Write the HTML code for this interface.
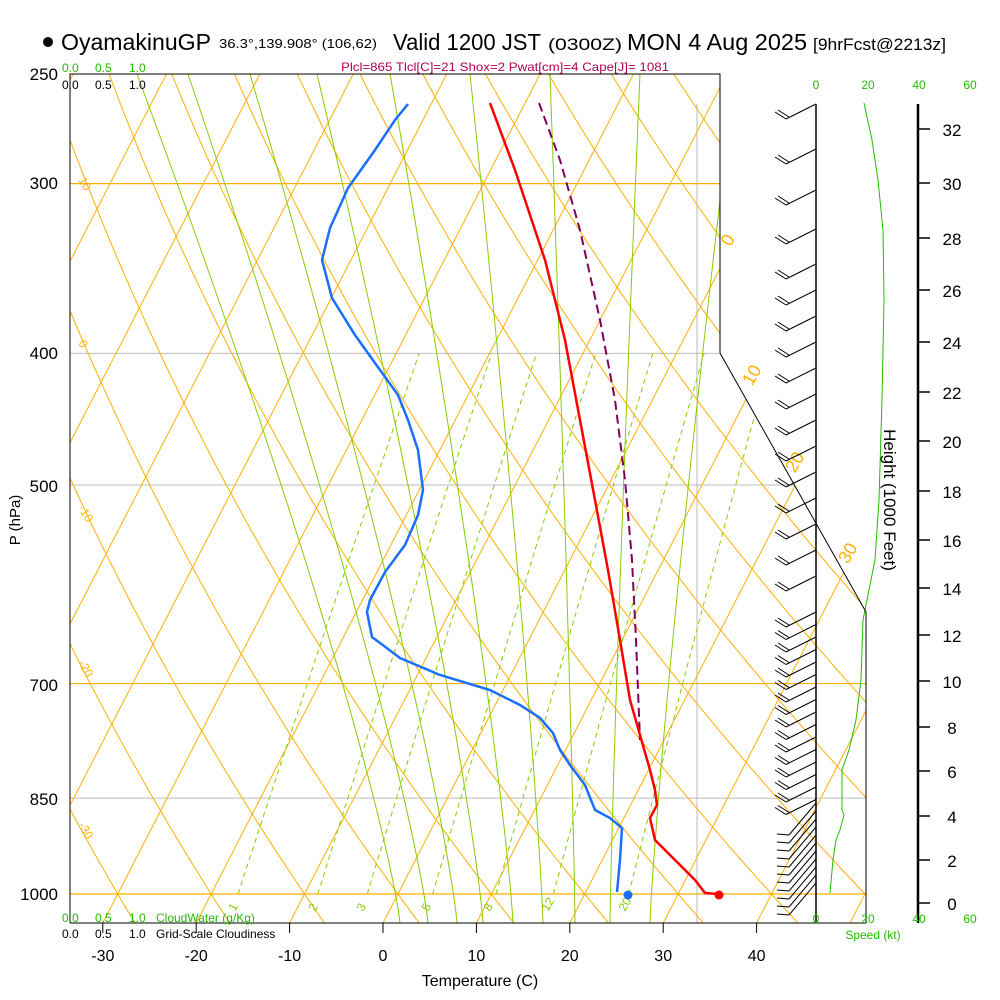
<!DOCTYPE html>
<html><head><meta charset="utf-8"><style>
html,body{margin:0;padding:0;background:#fff;width:1000px;height:1000px;overflow:hidden}
svg{display:block;font-family:"Liberation Sans",sans-serif}
</style></head><body>
<svg id="s" width="1000" height="1000" viewBox="0 0 1000 1000">
<defs><clipPath id="cp"><polygon points="70,74 720,74 720,353 866,612 866,923 70,923"/></clipPath></defs>
<g id="grid" clip-path="url(#cp)"></g>
<g id="data"></g>
<polyline points="70,923 70,74 720,74 720,353 866,612 866,923 70,923" fill="none" stroke="#000" stroke-width="1"/>
<line x1="816" y1="104" x2="816" y2="923" stroke="#000" stroke-width="1.5"/>
<line x1="918" y1="104" x2="918" y2="923" stroke="#000" stroke-width="2.5"/>
<g id="ax"></g>
<circle cx="48" cy="42" r="5" fill="#000"/>
<text x="61" y="50" font-size="23" textLength="150" lengthAdjust="spacingAndGlyphs">OyamakinuGP</text>
<text x="219" y="48" font-size="13" textLength="158" lengthAdjust="spacingAndGlyphs">36.3°,139.908° (106,62)</text>
<text x="393" y="50" font-size="23" textLength="148" lengthAdjust="spacingAndGlyphs">Valid 1200 JST</text>
<text x="548" y="50" font-size="17" textLength="74" lengthAdjust="spacingAndGlyphs">(0300Z)</text>
<text x="627" y="50" font-size="23" textLength="180" lengthAdjust="spacingAndGlyphs">MON 4 Aug 2025</text>
<text x="813" y="50" font-size="17" textLength="133" lengthAdjust="spacingAndGlyphs">[9hrFcst@2213z]</text>
<text x="341" y="71" font-size="12" fill="#b0005a" textLength="328" lengthAdjust="spacingAndGlyphs">Plcl=865 Tlcl[C]=21 Shox=2 Pwat[cm]=4 Cape[J]= 1081</text>
<g font-size="12" fill="#22bb00"><text x="62" y="72">0.0</text><text x="95" y="72">0.5</text><text x="129" y="72">1.0</text></g>
<g font-size="12" fill="#000"><text x="62" y="89">0.0</text><text x="95" y="89">0.5</text><text x="129" y="89">1.0</text></g>
<g font-size="12" fill="#22bb00"><text x="62" y="922">0.0</text><text x="95" y="922">0.5</text><text x="129" y="922">1.0</text><text x="156" y="922">CloudWater (g/Kg)</text></g>
<g font-size="12" fill="#000"><text x="62" y="938">0.0</text><text x="95" y="938">0.5</text><text x="129" y="938">1.0</text><text x="156" y="938">Grid-Scale Cloudiness</text></g>
<g font-size="12" fill="#22bb00" text-anchor="middle"><text x="816" y="89">0</text><text x="868" y="89">20</text><text x="919" y="89">40</text><text x="970" y="89">60</text>
<text x="816" y="923">0</text><text x="868" y="923">20</text><text x="919" y="923">40</text><text x="970" y="923">60</text><text x="873" y="939">Speed (kt)</text></g>
<text x="480" y="986" font-size="16" text-anchor="middle">Temperature (C)</text>
<text transform="translate(20,520) rotate(-90)" font-size="15" text-anchor="middle">P (hPa)</text>
<text transform="translate(884,500) rotate(90)" font-size="17" text-anchor="middle">Height (1000 Feet)</text>
</svg>
<script>
var NS="http://www.w3.org/2000/svg";
function el(par,tag,at,txt){var e=document.createElementNS(NS,tag);for(var k in at)e.setAttribute(k,at[k]);if(txt!=null)e.textContent=txt;par.appendChild(e);return e;}
function Y(p){return 894-590*Math.log(1000/p);}
function X(T,p){return 383+9.34*T+0.515*(923-Y(p));}
var g=document.getElementById('grid'),d=document.getElementById('data'),ax=document.getElementById('ax');
function pl(par,pts,st){el(par,'polyline',Object.assign({points:pts.map(function(a){return a[0].toFixed(1)+','+a[1].toFixed(1)}).join(' '),fill:'none'},st));}
var OR='#ffb000',GR='#88cc00';
[[300,OR,1.2],[400,'#bbb',1],[500,'#bbb',1],[700,OR,1.2],[850,'#bbb',1],[1000,OR,1.2]].forEach(function(a){var y=Y(a[0]);el(g,'line',{x1:70,y1:y,x2:866,y2:y,stroke:a[1],'stroke-width':a[2]});});
el(g,'line',{x1:697,y1:104,x2:697,y2:923,stroke:'#aaa','stroke-width':0.8});
for(var T=-130;T<=50;T+=10){pl(g,[[X(T,1050),Y(1050)],[X(T,240),Y(240)]],{stroke:OR,'stroke-width':1});}
for(var th=-50;th<=160;th+=10){var pts=[];for(var p=1050;p>=240;p-=10){var t=(th+273.15)*Math.pow(p/1000,0.286)-273.15;pts.push([X(t,p),Y(p)]);}pl(g,pts,{stroke:OR,'stroke-width':1});}
// moist adiabats (digitized shape)
[[400,137],[428,188],[457,250],[483,317],[513,390],[543,470],[575,550],[610,640],[650,735]].forEach(function(a){var pts=[];for(var y=923;y>=74;y-=10){var s=(923-y)/849;pts.push([a[0]-(a[0]-a[1])*Math.pow(s,1.2),y]);}pts.push([a[1],74]);pl(g,pts,{stroke:GR,'stroke-width':1});});
// mixing ratio
[1,2,3,5,8,12,20].forEach(function(w){var pts=[];for(var p=1000;p>=400;p-=10){var e=w*p/(622+w),l=Math.log(e/6.112);var td=243.5*l/(17.67-l);pts.push([X(td,p),Y(p)]);}pl(g,pts,{stroke:GR,'stroke-width':1,'stroke-dasharray':'5,4'});});
[[0,733,243],[10,757,378],[20,800,465],[30,853,556]].forEach(function(a){el(d,'text',{x:a[1],y:a[2],'font-size':18,fill:OR,'text-anchor':'middle',transform:'rotate(-60 '+a[1]+' '+a[2]+')'},a[0]);});
[['10',78,180],['0',78,343],['-10',78,508],['-20',78,663],['-30',78,825]].forEach(function(a){el(d,'text',{x:a[1],y:a[2],'font-size':12,fill:OR,transform:'rotate(60 '+a[1]+' '+a[2]+')'},a[0]);});
[['1',235,912],['2',315,912],['3',363,912],['5',428,912],['8',490,912],['12',548,912],['20',625,912]].forEach(function(a){el(d,'text',{x:a[1],y:a[2],'font-size':12,fill:GR,transform:'rotate(-60 '+a[1]+' '+a[2]+')'},a[0]);});
el(d,'line',{x1:70,y1:104,x2:70,y2:923,stroke:'#22bb00','stroke-width':1});
pl(d,[[864,103],[872,140],[878,180],[883,230],[884,300],[882,400],[879,500],[875,560],[866,605],[863,620],[861,680],[856,720],[849,750],[842,770],[842,810],[844,815],[840,830],[836,840],[833,860],[830,893]],{stroke:'#22bb00','stroke-width':1});
pl(d,[[408,104],[395,120],[375,150],[348,188],[330,228],[322,260],[332,298],[355,335],[380,370],[398,395],[408,420],[418,450],[423,490],[418,515],[405,545],[385,572],[370,600],[367,612],[372,637],[400,658],[440,675],[490,690],[520,705],[540,718],[553,733],[560,750],[570,765],[585,785],[595,810],[610,818],[622,828],[620,860],[617,892]],{stroke:'#1a6fff','stroke-width':2.5});
el(d,'circle',{cx:628,cy:895,r:4.5,fill:'#1a6fff'});
pl(d,[[539,103],[560,160],[580,230],[600,320],[615,400],[625,480],[632,560],[636,640],[640,740]],{stroke:'#800060','stroke-width':2,'stroke-dasharray':'9,5'});
pl(d,[[490,103],[515,170],[545,260],[565,340],[580,420],[595,500],[608,570],[620,640],[630,700],[640,735],[650,770],[655,790],[657,805],[650,818],[655,840],[675,860],[695,880],[705,893],[718,894]],{stroke:'#f00','stroke-width':2.5});
el(d,'circle',{cx:719,cy:895,r:4.5,fill:'#f00'});
// wind barbs
var ys=[104,149,190,229];for(var y=264;y<600;y+=26)ys.push(y);for(var y=612;y<800;y+=12.5)ys.push(y);
ys.forEach(function(y){var x2=786,y2=y+15;
el(d,'line',{x1:816,y1:y,x2:x2,y2:y2,stroke:'#000','stroke-width':1});
el(d,'line',{x1:x2,y1:y2,x2:x2-11,y2:y2-7,stroke:'#000','stroke-width':1});
el(d,'line',{x1:x2+3,y1:y2-2,x2:x2-8,y2:y2-9,stroke:'#000','stroke-width':1});});
for(var y=835;y<=918;y+=8){el(d,'line',{x1:816,y1:y-32,x2:789,y2:y,stroke:'#000','stroke-width':1});el(d,'line',{x1:789,y1:y,x2:777,y2:y-1,stroke:'#000','stroke-width':1});}
[[812,'780']].forEach(function(){});
[[250,74],[300,183],[400,353],[500,486],[700,685],[850,799],[1000,894]].forEach(function(a){el(ax,'text',{x:58,y:a[1]+6,'font-size':17,'text-anchor':'end'},a[0]);});
[-30,-20,-10,0,10,20,30,40].forEach(function(t){var x=383+9.34*t;el(ax,'line',{x1:x,y1:923,x2:x,y2:933,stroke:'#000'});el(ax,'text',{x:x,y:961,'font-size':16,'text-anchor':'middle'},t);});
[[32,129],[30,183],[28,238],[26,290],[24,342],[22,392],[20,441],[18,491],[16,540],[14,588],[12,635],[10,681],[8,727],[6,771],[4,816],[2,860],[0,903]].forEach(function(a){el(ax,'line',{x1:918,y1:a[1],x2:930,y2:a[1],stroke:'#000','stroke-width':1.5});el(ax,'text',{x:952,y:a[1]+7,'font-size':17,'text-anchor':'middle'},a[0]);});
</script>
</body></html>
